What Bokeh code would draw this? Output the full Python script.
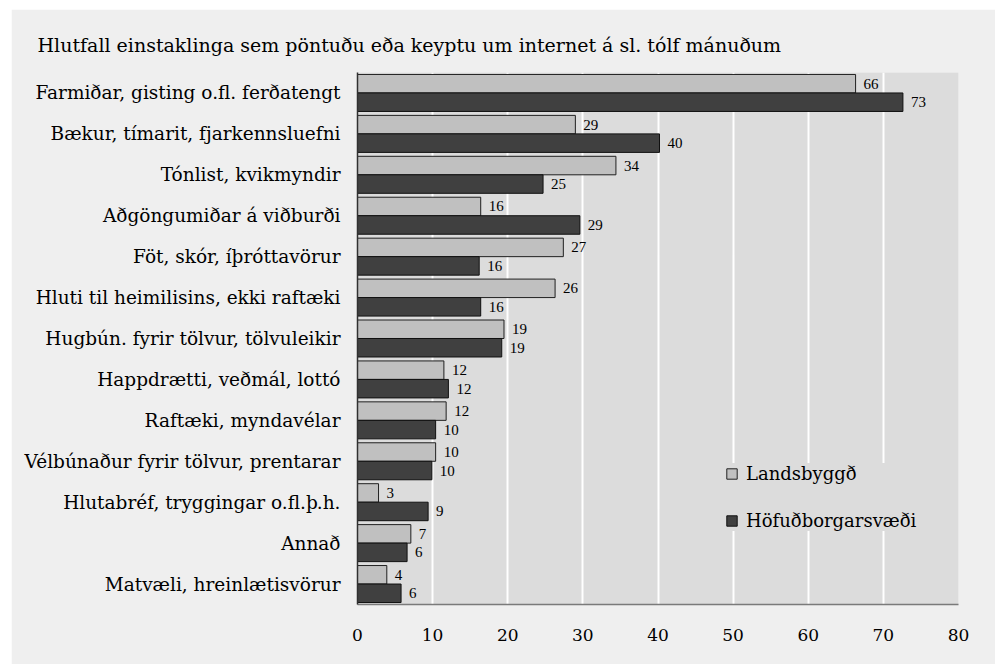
from bokeh.plotting import figure
from bokeh.models import ColumnDataSource, FactorRange, Legend
from bokeh.transform import dodge
from bokeh.core.properties import value
from bokeh.embed import file_html
from bokeh.resources import INLINE

title_text = "Hlutfall einstaklinga sem pöntuðu eða keyptu um internet á sl. tólf mánuðum"

categories = [
    "Farmiðar, gisting o.fl. ferðatengt",
    "Bækur, tímarit, fjarkennsluefni",
    "Tónlist, kvikmyndir",
    "Aðgöngumiðar á viðburði",
    "Föt, skór, íþróttavörur",
    "Hluti til heimilisins, ekki raftæki",
    "Hugbún. fyrir tölvur, tölvuleikir",
    "Happdrætti, veðmál, lottó",
    "Raftæki, myndavélar",
    "Vélbúnaður fyrir tölvur, prentarar",
    "Hlutabréf, tryggingar o.fl.þ.h.",
    "Annað",
    "Matvæli, hreinlætisvörur",
]
landsbyggd = [66.3, 29.0, 34.4, 16.4, 27.4, 26.3, 19.5, 11.5, 11.8, 10.4, 2.8, 7.1, 3.9]
hofudborg = [72.6, 40.2, 24.7, 29.6, 16.2, 16.4, 19.2, 12.1, 10.4, 9.9, 9.4, 6.6, 5.8]
landsbyggd_labels = ["66", "29", "34", "16", "27", "26", "19", "12", "12", "10", "3", "7", "4"]
hofudborg_labels = ["73", "40", "25", "29", "16", "16", "19", "12", "10", "10", "9", "6", "6"]
series_names = ["Landsbyggð", "Höfuðborgarsvæði"]
x_ticks = [0, 10, 20, 30, 40, 50, 60, 70, 80]

FONT = "DejaVu Serif"
VFONT = "Liberation Serif"

src = ColumnDataSource(dict(
    cat=categories,
    lb=landsbyggd, hb=hofudborg,
    lbl=landsbyggd_labels, hbl=hofudborg_labels,
))

p = figure(
    y_range=FactorRange(factors=list(reversed(categories))),
    x_range=(0, 80),
    frame_width=601, frame_height=532,
    min_border_left=346, min_border_right=37,
    min_border_top=63, min_border_bottom=60,
    output_backend="svg", toolbar_location=None,
)
p.margin = (9, 0, 0, 11)
p.border_fill_color = "#efefef"
p.background_fill_color = "#dcdcdc"
p.outline_line_color = None

p.title.text = title_text
p.title.align = "left"
p.title.offset = -320
p.title.text_font = FONT
p.title.text_font_size = "19px"
p.title.text_font_style = "normal"
p.title.text_color = "black"
p.title.standoff = 33

p.ygrid.grid_line_color = None
p.xgrid.grid_line_color = "white"
p.xgrid.grid_line_width = 2
p.xaxis.ticker = x_ticks

h = 0.452
r1 = p.hbar(y=dodge("cat", h / 2, range=p.y_range), right="lb", left=0, height=h,
            source=src, fill_color="#c0c0c0", line_color="#202020", line_width=1)
r2 = p.hbar(y=dodge("cat", -h / 2, range=p.y_range), right="hb", left=0, height=h,
            source=src, fill_color="#404040", line_color="#101010", line_width=1)

p.text(x="lb", y=dodge("cat", h / 2, range=p.y_range), text="lbl", source=src,
       x_offset=8, text_baseline="middle", text_align="left",
       text_font=value(VFONT), text_font_size="15px", text_color="black")
p.text(x="hb", y=dodge("cat", -h / 2, range=p.y_range), text="hbl", source=src,
       x_offset=8, text_baseline="middle", text_align="left",
       text_font=value(VFONT), text_font_size="15px", text_color="black")

for ax in (p.xaxis[0], p.yaxis[0]):
    ax.major_tick_line_color = None
    ax.minor_tick_line_color = None
    ax.major_tick_out = 0
    ax.major_tick_in = 0
    ax.major_label_text_font = FONT
    ax.major_label_text_color = "black"
p.xaxis.major_label_text_font_size = "17px"
p.yaxis.major_label_text_font_size = "18.5px"
p.xaxis.axis_line_color = "#7a7a7a"
p.xaxis.axis_line_width = 1.5
p.xaxis.major_label_standoff = 24
p.yaxis.axis_line_color = "#303030"
p.yaxis.axis_line_width = 1.5
p.yaxis.major_label_standoff = 17

legend = Legend(items=[(series_names[0], [r1]), (series_names[1], [r2])],
                location=(368, 73))
legend.background_fill_color = "#dcdcdc"
legend.background_fill_alpha = 1
legend.border_line_color = None
legend.label_text_font = FONT
legend.label_text_font_size = "18px"
legend.label_text_color = "black"
legend.glyph_width = 13
legend.glyph_height = 13
legend.label_height = 20
legend.spacing = 26
legend.padding = 12
legend.margin = 0
legend.label_standoff = 8
p.add_layout(legend, "center")

open("out.html", "w").write(file_html(p, INLINE))
